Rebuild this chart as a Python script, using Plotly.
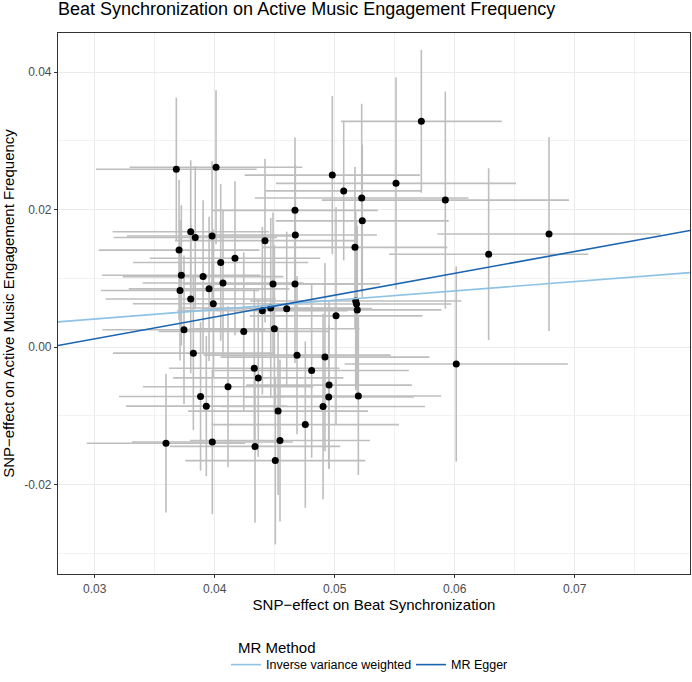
import plotly.graph_objects as go

# SNP effects on exposure (Beat Synchronization) and outcome (Active Music Engagement Frequency)
beta_exposure = [0.03680, 0.04011, 0.04980, 0.05075, 0.04669, 0.03800, 0.03838, 0.03978, 0.04672, 0.05722,
                 0.05511, 0.05225, 0.05922, 0.05230, 0.04419, 0.03703, 0.04169, 0.04050, 0.03722, 0.03903,
                 0.04069, 0.04486, 0.04669, 0.03711, 0.03953, 0.03800, 0.03988, 0.04397, 0.04467, 0.04600,
                 0.05011, 0.03744, 0.04242, 0.04497, 0.03822, 0.04686, 0.04919, 0.04330, 0.04808, 0.04363,
                 0.04111, 0.04953, 0.03882, 0.04950, 0.03930, 0.04903, 0.04528, 0.04755, 0.03594, 0.03980,
                 0.04336, 0.04544, 0.04505, 0.05169, 0.06283, 0.05175, 0.05182, 0.05188, 0.06013, 0.05197,
                 0.06786]
beta_outcome = [0.02587, 0.02614, 0.02501, 0.02271, 0.01988, 0.01676, 0.01593, 0.01614, 0.01629, 0.03283,
                0.02381, 0.02168, 0.02137, 0.01835, 0.01547, 0.01410, 0.01292, 0.01230, 0.01043, 0.01024,
                0.00932, 0.00918, 0.00918, 0.00823, 0.00846, 0.00698, 0.00630, 0.00529, 0.00568, 0.00558,
                0.00453, 0.00252, 0.00227, 0.00266, -0.00089, -0.00118, -0.00147, -0.00309, -0.00342, -0.00449,
                -0.00578, -0.00554, -0.00719, -0.00727, -0.00860, -0.00866, -0.00932, -0.01129, -0.01399, -0.01381,
                -0.01446, -0.01360, -0.01652, 0.01450, 0.01350, 0.00669, 0.00626, 0.00540, -0.00247, -0.00712,
                0.01643]
se_exposure = [0.0067, 0.0072, 0.0073, 0.0065, 0.0069, 0.0065, 0.0068, 0.0071, 0.0068, 0.0067,
               0.0100, 0.0089, 0.0103, 0.0072, 0.0075, 0.0067, 0.0071, 0.0073, 0.0066, 0.0067,
               0.0067, 0.0075, 0.0071, 0.0066, 0.0067, 0.0071, 0.0067, 0.0071, 0.0075, 0.0071,
               0.0072, 0.0068, 0.0071, 0.0071, 0.0067, 0.0078, 0.0087, 0.0071, 0.0081, 0.0071,
               0.0071, 0.0069, 0.0068, 0.0071, 0.0067, 0.0085, 0.0075, 0.0078, 0.0066, 0.0067,
               0.0071, 0.0075, 0.0075, 0.0077, 0.0083, 0.0088, 0.0079, 0.0070, 0.0093, 0.0069,
               0.0093]
se_outcome = [0.0104, 0.0112, 0.0115, 0.0101, 0.0106, 0.0104, 0.0104, 0.0109, 0.0102, 0.0104,
              0.0154, 0.0137, 0.0158, 0.0111, 0.0119, 0.0102, 0.0112, 0.0114, 0.0102, 0.0111,
              0.0105, 0.0104, 0.0115, 0.0102, 0.0105, 0.0108, 0.0108, 0.0122, 0.0131, 0.0112,
              0.0158, 0.0108, 0.0115, 0.0122, 0.0112, 0.0115, 0.0137, 0.0115, 0.0127, 0.0115,
              0.0117, 0.0122, 0.0108, 0.0104, 0.0102, 0.0135, 0.0122, 0.0121, 0.0101, 0.0105,
              0.0111, 0.0118, 0.0122, 0.0117, 0.0125, 0.0130, 0.0122, 0.0122, 0.0142, 0.0115,
              0.0141]

# MR estimates (lines)
methods = ["Inverse variance weighted", "MR Egger"]
slopes = [0.136, 0.3176]
intercepts = [0.0, -0.00834]
method_colors = ["#8ec3e6", "#1a64b0"]

x_range = [0.02694, 0.07961]
y_range = [-0.03302, 0.04568]

x_ticks = [0.03, 0.04, 0.05, 0.06, 0.07]
x_ticktext = ["0.03", "0.04", "0.05", "0.06", "0.07"]
y_ticks = [-0.02, 0.0, 0.02, 0.04]
y_ticktext = ["-0.02", "0.00", "0.02", "0.04"]

FONT = "Liberation Sans, Arial, sans-serif"

fig = go.Figure()

fig.add_trace(go.Scatter(
    x=beta_exposure, y=beta_outcome, mode="markers",
    marker=dict(color="black", size=7),
    error_x=dict(type="data", array=se_exposure, color="#bebebe", thickness=1.6, width=0),
    error_y=dict(type="data", array=se_outcome, color="#bebebe", thickness=1.6, width=0),
    showlegend=False, hoverinfo="skip",
))

for name, b, a, c in zip(methods, slopes, intercepts, method_colors):
    fig.add_trace(go.Scatter(
        x=x_range, y=[a + b * x_range[0], a + b * x_range[1]],
        mode="lines", line=dict(color=c, width=1.6), name=name,
    ))

axis_common = dict(
    showline=True, linecolor="#333333", linewidth=1.2, mirror=True,
    showgrid=True, gridcolor="#ebebeb", gridwidth=1.2,
    ticks="outside", ticklen=3, tickcolor="#333333", tickwidth=1,
    tickfont=dict(family=FONT, size=12, color="#4d4d4d"),
    zeroline=False,
)

fig.update_layout(
    width=692, height=682,
    margin=dict(l=58, r=2, t=33, b=102),
    paper_bgcolor="white", plot_bgcolor="white",
    font=dict(family=FONT, color="black"),
    title=dict(text="Beat Synchronization on Active Music Engagement Frequency",
               x=0, xref="paper", xanchor="left",
               y=1 - 9 / 682, yref="container", yanchor="middle",
               font=dict(family=FONT, size=18, color="black")),
    xaxis=dict(range=x_range, tickvals=x_ticks, ticktext=x_ticktext,
               minor=dict(tickvals=[0.035, 0.045, 0.055, 0.065, 0.075], showgrid=True,
                          gridcolor="#f2f2f2", gridwidth=1, ticks=""),
               title=dict(text="SNP−effect on Beat Synchronization", standoff=4,
                          font=dict(family=FONT, size=15, color="black")),
               **axis_common),
    yaxis=dict(range=y_range, tickvals=y_ticks, ticktext=y_ticktext,
               minor=dict(tickvals=[-0.03, -0.01, 0.01, 0.03], showgrid=True,
                          gridcolor="#f2f2f2", gridwidth=1, ticks=""),
               title=dict(text="SNP−effect on Active Music Engagement Frequency", standoff=5,
                          font=dict(family=FONT, size=15, color="black")),
               **axis_common),
    legend=dict(orientation="h", x=(226 - 58) / 632, xanchor="left",
                y=-(672 - 580) / 547, yanchor="middle",
                entrywidth=140, entrywidthmode="pixels",
                font=dict(family=FONT, size=12.5, color="black"),
                bgcolor="rgba(0,0,0,0)"),
    annotations=[dict(text="MR Method", xref="paper", yref="paper",
                      x=(236 - 58) / 632, xanchor="left",
                      y=-(654 - 580) / 547, yanchor="middle", showarrow=False,
                      font=dict(family=FONT, size=15, color="black"))],
)

fig.write_html("out.html")
